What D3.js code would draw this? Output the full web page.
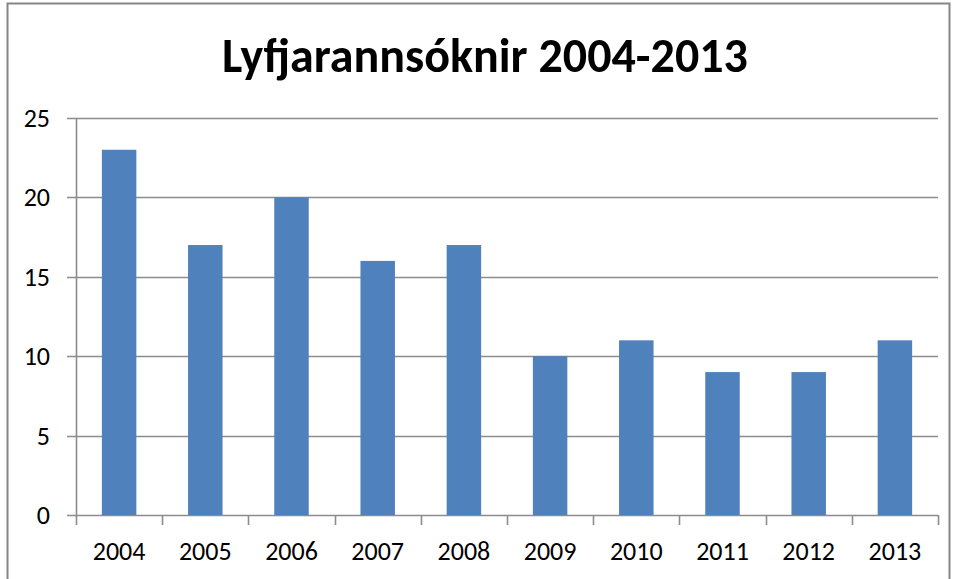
<!DOCTYPE html>
<html>
<head>
<meta charset="utf-8">
<script src="https://cdn.jsdelivr.net/npm/d3@7"></script>
<style>
  html,body{margin:0;padding:0;background:#fff;}
  svg{display:block;}
</style>
</head>
<body>
<svg id="chart" width="957" height="579"></svg>
<script>
/* ── data ── */
var years=['2004','2005','2006','2007','2008','2009','2010','2011','2012','2013'];
var counts=[23,17,20,16,17,10,11,9,9,11];
var yTicks=[0,5,10,15,20,25];
var chartTitle='Lyfjarannsóknir 2004-2013';

var W=957, H=579;
var ML=76, MR=19, MT=118, MB=64;
var FONT='Carlito, Calibri, "Open Sans", "Noto Sans", sans-serif';

var svg=d3.select('#chart');

/* outer frame */
svg.append('rect').attr('x',7.5).attr('y',3.5).attr('width',942).attr('height',H+10)
  .attr('fill','#fff').attr('stroke','#868686').attr('stroke-width',2);

var pw=W-ML-MR, ph=H-MT-MB;
var g=svg.append('g').attr('transform','translate('+ML+','+MT+')');

var x=d3.scaleBand().domain(years).range([0,pw]).paddingInner(0.6).paddingOuter(0.3);
var xEdge=d3.scaleLinear().domain([0,years.length]).range([0,pw]);
var y=d3.scaleLinear().domain([0,25]).range([ph,0]);

/* gridlines */
g.selectAll('.grid').data(yTicks).enter().append('line')
  .attr('x1',-9).attr('x2',pw)
  .attr('y1',function(d){return Math.round(y(d))+0.5;})
  .attr('y2',function(d){return Math.round(y(d))+0.5;})
  .attr('stroke','#8c8c8c').attr('stroke-width',1.6);

/* y axis line */
g.append('line').attr('x1',0.5).attr('x2',0.5).attr('y1',0).attr('y2',ph)
  .attr('stroke','#8c8c8c').attr('stroke-width',1.6);

/* y labels */
g.selectAll('.ylab').data(yTicks).enter().append('text')
  .attr('x',-26).attr('y',function(d){return y(d)+9;})
  .attr('text-anchor','end').attr('font-size',26).attr('font-family',FONT)
  .attr('fill','#000').text(function(d){return d;});

/* bars */
g.selectAll('.bar').data(counts).enter().append('rect')
  .attr('x',function(d,i){return x(years[i]);})
  .attr('width',x.bandwidth())
  .attr('y',function(d){return y(d);})
  .attr('height',function(d){return ph-y(d);})
  .attr('fill','#4f81bd');

/* x axis ticks at category edges */
d3.range(years.length+1).forEach(function(i){
  g.append('line').attr('x1',Math.round(xEdge(i))+0.5).attr('x2',Math.round(xEdge(i))+0.5)
    .attr('y1',ph).attr('y2',ph+10)
    .attr('stroke','#8c8c8c').attr('stroke-width',1.6);
});

/* x labels */
g.selectAll('.xlab').data(years).enter().append('text')
  .attr('x',function(d){return x(d)+x.bandwidth()/2;})
  .attr('y',ph+45)
  .attr('text-anchor','middle').attr('font-size',26).attr('font-family',FONT)
  .attr('fill','#000').text(function(d){return d;});

/* title */
var t=svg.append('text').attr('x',485).attr('y',72).attr('text-anchor','middle')
  .attr('font-size',40).attr('font-weight','bold').attr('font-family',FONT)
  .attr('fill','#000').text(chartTitle);
var tw=t.node().getComputedTextLength();
if(tw>0) t.attr('font-size',40*526/tw);
</script>
</body>
</html>
